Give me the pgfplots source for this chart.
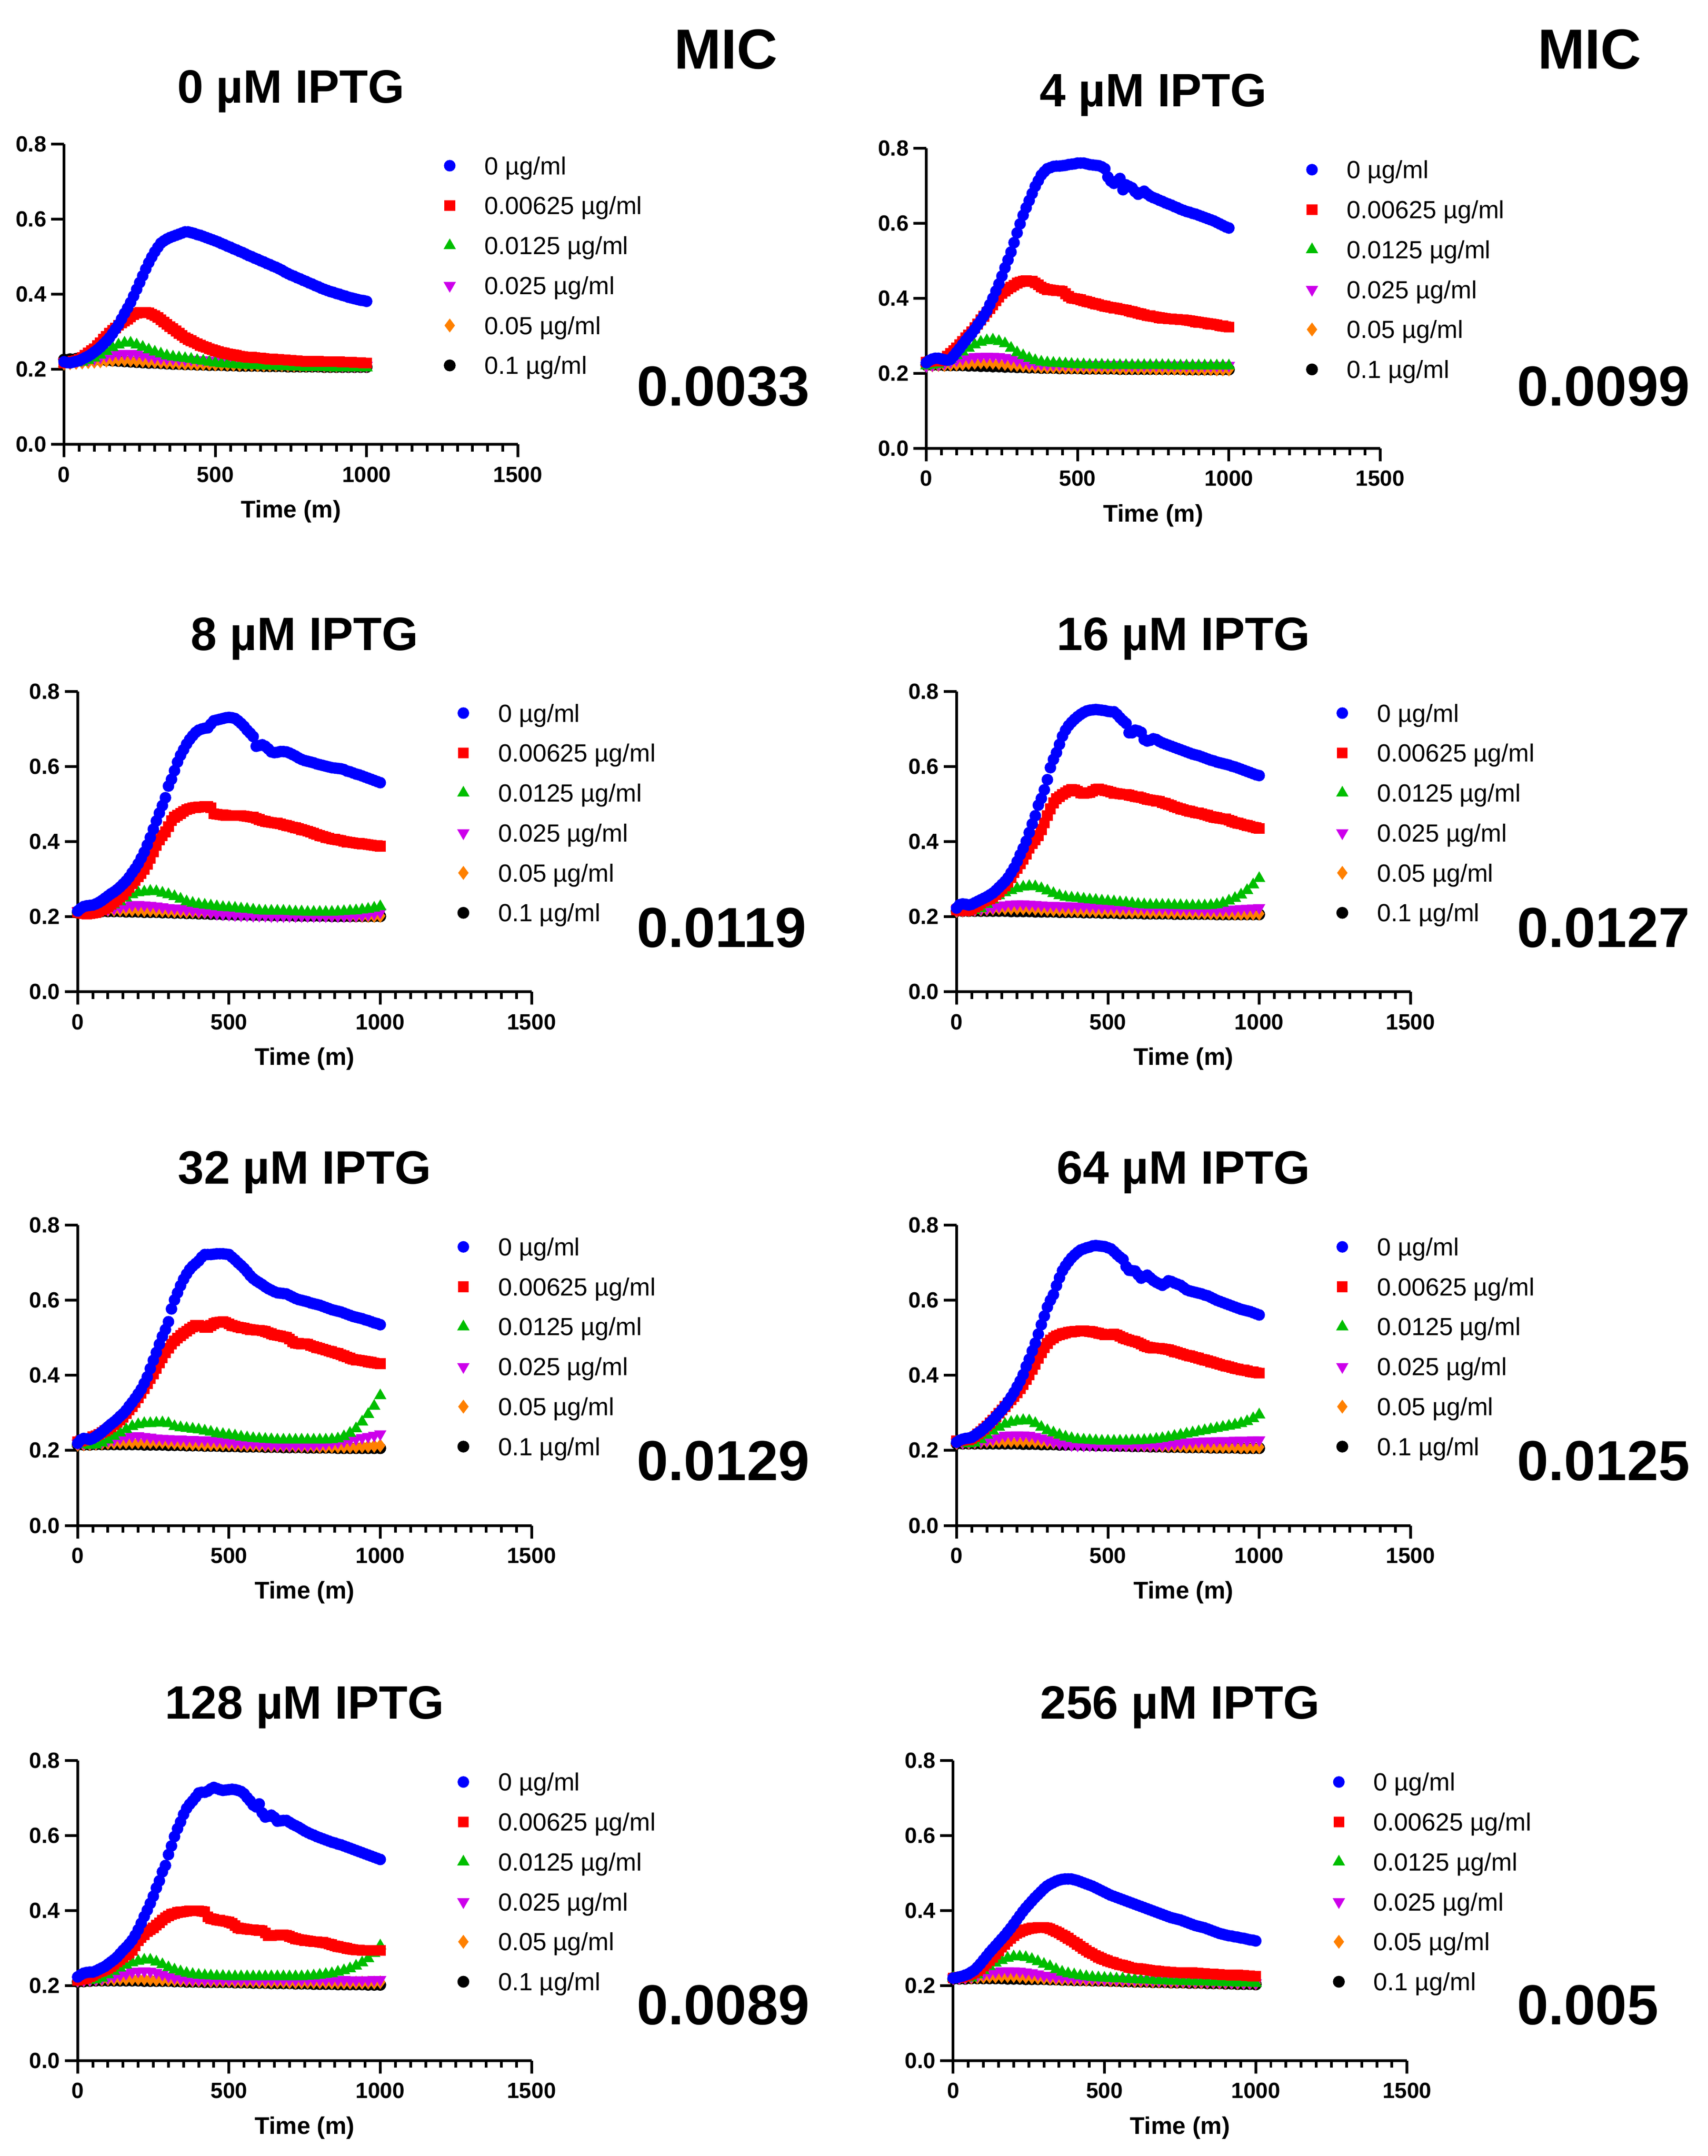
\documentclass[border=0pt]{standalone}
\usepackage{fontspec}
\setmainfont{Liberation Sans}
\usepackage{pgfplots}
\usepackage{pgfplotstable}
\pgfplotsset{compat=1.18}
\definecolor{cB}{RGB}{0,0,255}
\definecolor{cR}{RGB}{255,0,0}
\definecolor{cG}{RGB}{0,190,0}
\definecolor{cP}{RGB}{205,0,235}
\definecolor{cO}{RGB}{255,128,0}

% ---------- Panel A: 0 uM IPTG ----------
\pgfplotstableread{
t B R
0 0.220 0.217
10 0.218 0.218
20 0.217 0.219
30 0.219 0.221
40 0.221 0.223
50 0.223 0.226
60 0.227 0.231
70 0.231 0.237
80 0.235 0.243
90 0.240 0.249
100 0.246 0.255
110 0.252 0.263
120 0.259 0.271
130 0.267 0.280
140 0.275 0.288
150 0.284 0.296
160 0.295 0.303
170 0.307 0.310
180 0.319 0.317
190 0.334 0.323
200 0.349 0.328
210 0.363 0.334
220 0.378 0.340
230 0.395 0.346
240 0.413 0.349
250 0.431 0.351
260 0.449 0.352
270 0.467 0.352
280 0.484 0.350
290 0.499 0.347
300 0.513 0.343
310 0.525 0.338
320 0.536 0.332
330 0.542 0.326
340 0.547 0.320
350 0.551 0.314
360 0.554 0.308
370 0.557 0.302
380 0.560 0.296
390 0.563 0.290
400 0.566 0.284
410 0.566 0.280
420 0.564 0.276
430 0.562 0.272
440 0.559 0.268
450 0.557 0.264
460 0.554 0.261
470 0.551 0.258
480 0.548 0.255
490 0.545 0.252
500 0.542 0.249
510 0.539 0.247
520 0.535 0.245
530 0.532 0.243
540 0.528 0.241
550 0.525 0.240
560 0.521 0.238
570 0.518 0.237
580 0.514 0.235
590 0.511 0.234
600 0.507 0.233
610 0.503 0.232
620 0.500 0.232
630 0.496 0.231
640 0.493 0.230
650 0.489 0.230
660 0.486 0.229
670 0.482 0.228
680 0.479 0.227
690 0.475 0.227
700 0.472 0.226
710 0.468 0.226
720 0.464 0.225
730 0.459 0.225
740 0.455 0.224
750 0.451 0.224
760 0.448 0.223
770 0.444 0.223
780 0.441 0.222
790 0.437 0.222
800 0.434 0.221
810 0.430 0.221
820 0.427 0.221
830 0.423 0.221
840 0.420 0.221
850 0.416 0.220
860 0.413 0.220
870 0.410 0.220
880 0.407 0.220
890 0.405 0.220
900 0.402 0.220
910 0.400 0.220
920 0.397 0.219
930 0.395 0.219
940 0.392 0.219
950 0.390 0.219
960 0.388 0.218
970 0.386 0.218
980 0.384 0.218
990 0.383 0.217
1000 0.381 0.217
}\PAhi
\pgfplotstableread{
t G P O K
0 0.215 0.220 0.215 0.226
20 0.216 0.221 0.216 0.227
40 0.217 0.222 0.217 0.228
60 0.219 0.224 0.218 0.228
80 0.224 0.226 0.219 0.227
100 0.230 0.228 0.220 0.226
120 0.238 0.232 0.221 0.225
140 0.248 0.236 0.223 0.224
160 0.258 0.239 0.224 0.223
180 0.265 0.241 0.225 0.222
200 0.270 0.242 0.225 0.221
220 0.270 0.242 0.224 0.220
240 0.265 0.241 0.223 0.219
260 0.259 0.238 0.222 0.218
280 0.252 0.235 0.221 0.217
300 0.246 0.232 0.220 0.217
320 0.241 0.230 0.219 0.216
340 0.236 0.229 0.218 0.215
360 0.233 0.228 0.217 0.214
380 0.231 0.227 0.216 0.214
400 0.229 0.226 0.215 0.213
420 0.227 0.226 0.215 0.213
440 0.224 0.225 0.214 0.212
460 0.222 0.225 0.214 0.212
480 0.219 0.224 0.214 0.211
500 0.217 0.224 0.213 0.211
520 0.215 0.223 0.213 0.211
540 0.214 0.222 0.213 0.210
560 0.213 0.221 0.212 0.210
580 0.212 0.221 0.212 0.209
600 0.211 0.220 0.212 0.209
620 0.210 0.219 0.212 0.209
640 0.210 0.218 0.211 0.209
660 0.209 0.217 0.211 0.208
680 0.209 0.216 0.211 0.208
700 0.208 0.215 0.211 0.208
720 0.207 0.215 0.211 0.208
740 0.207 0.214 0.210 0.207
760 0.206 0.214 0.210 0.207
780 0.206 0.213 0.210 0.207
800 0.205 0.213 0.210 0.207
820 0.205 0.212 0.210 0.207
840 0.205 0.212 0.210 0.207
860 0.205 0.211 0.209 0.206
880 0.204 0.211 0.209 0.206
900 0.204 0.211 0.209 0.206
920 0.204 0.210 0.209 0.206
940 0.204 0.210 0.209 0.206
960 0.204 0.210 0.209 0.206
980 0.204 0.210 0.209 0.206
1000 0.204 0.210 0.209 0.206
}\PAlo

% ---------- Panel B: 4 uM IPTG ----------
\pgfplotstableread{
t B R
0 0.228 0.230
10 0.234 0.231
20 0.238 0.232
30 0.240 0.233
40 0.240 0.233
50 0.238 0.234
60 0.236 0.239
70 0.235 0.246
80 0.237 0.253
90 0.246 0.260
100 0.256 0.268
110 0.266 0.276
120 0.277 0.285
130 0.287 0.294
140 0.297 0.302
150 0.306 0.311
160 0.317 0.321
170 0.329 0.331
180 0.340 0.342
190 0.353 0.352
200 0.366 0.362
210 0.383 0.372
220 0.400 0.382
230 0.419 0.393
240 0.438 0.403
250 0.459 0.413
260 0.481 0.419
270 0.502 0.425
280 0.523 0.430
290 0.548 0.435
300 0.574 0.440
310 0.598 0.443
320 0.621 0.445
330 0.641 0.447
340 0.660 0.446
350 0.679 0.445
360 0.698 0.441
370 0.713 0.436
380 0.728 0.430
390 0.737 0.426
400 0.745 0.423
410 0.748 0.422
420 0.751 0.421
430 0.752 0.420
440 0.752 0.420
450 0.753 0.419
460 0.754 0.412
470 0.756 0.405
480 0.757 0.400
490 0.758 0.399
500 0.760 0.398
510 0.760 0.396
520 0.760 0.393
530 0.758 0.391
540 0.756 0.389
550 0.755 0.387
560 0.754 0.385
570 0.753 0.383
580 0.750 0.381
590 0.745 0.379
600 0.723 0.377
610 0.712 0.376
620 0.706 0.374
630 0.712 0.373
640 0.719 0.371
650 0.689 0.370
660 0.702 0.368
670 0.698 0.366
680 0.694 0.364
690 0.684 0.362
700 0.677 0.360
710 0.681 0.358
720 0.685 0.356
730 0.678 0.354
740 0.672 0.353
750 0.668 0.351
760 0.665 0.350
770 0.661 0.348
780 0.658 0.347
790 0.654 0.346
800 0.651 0.345
810 0.648 0.345
820 0.644 0.344
830 0.641 0.344
840 0.637 0.343
850 0.634 0.343
860 0.631 0.341
870 0.629 0.340
880 0.626 0.339
890 0.624 0.337
900 0.621 0.336
910 0.618 0.335
920 0.615 0.334
930 0.612 0.332
940 0.609 0.331
950 0.606 0.330
960 0.602 0.329
970 0.598 0.327
980 0.594 0.326
990 0.590 0.324
1000 0.587 0.323
}\PBhi
\pgfplotstableread{
t G P O K
0 0.220 0.220 0.220 0.222
20 0.222 0.222 0.221 0.222
40 0.224 0.224 0.222 0.222
60 0.229 0.227 0.222 0.221
80 0.238 0.231 0.223 0.221
100 0.247 0.235 0.224 0.221
120 0.257 0.239 0.225 0.221
140 0.267 0.242 0.227 0.220
160 0.276 0.244 0.228 0.220
180 0.283 0.245 0.229 0.219
200 0.287 0.245 0.229 0.219
220 0.289 0.245 0.228 0.218
240 0.285 0.244 0.227 0.218
260 0.279 0.242 0.225 0.217
280 0.267 0.239 0.223 0.217
300 0.255 0.235 0.222 0.216
320 0.247 0.231 0.220 0.216
340 0.240 0.228 0.219 0.215
360 0.234 0.226 0.218 0.215
380 0.230 0.225 0.217 0.214
400 0.228 0.224 0.216 0.214
420 0.227 0.224 0.216 0.214
440 0.226 0.224 0.216 0.213
460 0.225 0.224 0.215 0.213
480 0.224 0.224 0.215 0.213
500 0.223 0.223 0.215 0.213
520 0.223 0.223 0.215 0.212
540 0.222 0.223 0.214 0.212
560 0.222 0.223 0.214 0.212
580 0.222 0.223 0.214 0.212
600 0.221 0.223 0.214 0.212
620 0.221 0.223 0.214 0.212
640 0.221 0.223 0.213 0.211
660 0.221 0.222 0.213 0.211
680 0.221 0.222 0.213 0.211
700 0.221 0.222 0.213 0.211
720 0.221 0.222 0.213 0.211
740 0.221 0.222 0.213 0.211
760 0.221 0.222 0.212 0.211
780 0.221 0.222 0.212 0.211
800 0.221 0.222 0.212 0.211
820 0.220 0.222 0.212 0.211
840 0.220 0.222 0.212 0.211
860 0.220 0.221 0.211 0.210
880 0.220 0.221 0.211 0.210
900 0.220 0.221 0.211 0.210
920 0.220 0.221 0.211 0.210
940 0.220 0.221 0.211 0.210
960 0.220 0.221 0.210 0.210
980 0.220 0.221 0.210 0.210
1000 0.220 0.221 0.210 0.210
}\PBlo

% ---------- Panel C: 8 uM IPTG ----------
\pgfplotstableread{
t B R
0 0.215 0.212
10 0.222 0.210
20 0.227 0.208
30 0.229 0.207
40 0.230 0.208
50 0.231 0.209
60 0.234 0.211
70 0.238 0.214
80 0.243 0.218
90 0.249 0.222
100 0.255 0.227
110 0.261 0.233
120 0.266 0.239
130 0.272 0.245
140 0.279 0.252
150 0.287 0.259
160 0.295 0.268
170 0.305 0.278
180 0.317 0.288
190 0.328 0.297
200 0.341 0.306
210 0.356 0.315
220 0.372 0.326
230 0.391 0.340
240 0.411 0.356
250 0.433 0.373
260 0.455 0.390
270 0.476 0.405
280 0.496 0.416
290 0.517 0.426
300 0.548 0.440
310 0.566 0.456
320 0.589 0.465
330 0.612 0.470
340 0.630 0.475
350 0.645 0.480
360 0.660 0.485
370 0.672 0.488
380 0.682 0.490
390 0.691 0.491
400 0.697 0.492
410 0.700 0.493
420 0.702 0.494
430 0.703 0.494
440 0.713 0.490
450 0.722 0.474
460 0.724 0.473
470 0.726 0.472
480 0.728 0.471
490 0.730 0.470
500 0.731 0.469
510 0.730 0.469
520 0.728 0.469
530 0.722 0.469
540 0.715 0.469
550 0.707 0.468
560 0.697 0.467
570 0.689 0.466
580 0.680 0.465
590 0.654 0.462
600 0.656 0.459
610 0.658 0.456
620 0.654 0.454
630 0.647 0.452
640 0.639 0.451
650 0.637 0.450
660 0.638 0.449
670 0.640 0.447
680 0.640 0.445
690 0.639 0.443
700 0.636 0.441
710 0.632 0.439
720 0.628 0.437
730 0.623 0.435
740 0.619 0.432
750 0.616 0.430
760 0.614 0.428
770 0.612 0.425
780 0.610 0.422
790 0.607 0.419
800 0.605 0.416
810 0.603 0.414
820 0.601 0.411
830 0.599 0.409
840 0.597 0.407
850 0.596 0.406
860 0.595 0.404
870 0.594 0.403
880 0.592 0.401
890 0.588 0.399
900 0.586 0.398
910 0.583 0.397
920 0.580 0.396
930 0.578 0.395
940 0.575 0.394
950 0.572 0.393
960 0.569 0.392
970 0.566 0.391
980 0.563 0.390
990 0.560 0.389
1000 0.557 0.388
}\PChi
\pgfplotstableread{
t G P O K
0 0.215 0.215 0.215 0.212
20 0.216 0.216 0.216 0.213
40 0.217 0.217 0.216 0.213
60 0.219 0.218 0.217 0.214
80 0.222 0.219 0.217 0.214
100 0.226 0.220 0.218 0.214
120 0.232 0.222 0.218 0.214
140 0.240 0.225 0.218 0.214
160 0.250 0.228 0.218 0.213
180 0.259 0.231 0.218 0.213
200 0.264 0.232 0.218 0.213
220 0.266 0.231 0.217 0.212
240 0.268 0.230 0.217 0.212
260 0.267 0.228 0.216 0.212
280 0.263 0.226 0.216 0.211
300 0.259 0.224 0.215 0.211
320 0.254 0.223 0.214 0.210
340 0.247 0.221 0.214 0.210
360 0.240 0.219 0.213 0.209
380 0.236 0.217 0.213 0.209
400 0.233 0.215 0.212 0.208
420 0.231 0.213 0.212 0.208
440 0.229 0.211 0.211 0.207
460 0.227 0.208 0.211 0.207
480 0.225 0.207 0.210 0.206
500 0.224 0.206 0.210 0.206
520 0.223 0.205 0.209 0.205
540 0.221 0.204 0.209 0.205
560 0.220 0.204 0.208 0.205
580 0.218 0.203 0.208 0.204
600 0.216 0.203 0.207 0.204
620 0.215 0.203 0.207 0.204
640 0.215 0.202 0.206 0.203
660 0.215 0.202 0.206 0.203
680 0.215 0.202 0.206 0.203
700 0.214 0.202 0.205 0.203
720 0.213 0.202 0.205 0.202
740 0.213 0.202 0.205 0.202
760 0.212 0.202 0.204 0.202
780 0.212 0.202 0.204 0.202
800 0.212 0.202 0.204 0.202
820 0.212 0.202 0.203 0.202
840 0.212 0.202 0.203 0.201
860 0.213 0.202 0.203 0.201
880 0.214 0.202 0.203 0.201
900 0.215 0.202 0.202 0.201
920 0.216 0.203 0.202 0.201
940 0.218 0.204 0.202 0.201
960 0.220 0.206 0.202 0.201
980 0.223 0.209 0.202 0.201
1000 0.227 0.212 0.202 0.201
}\PClo

% ---------- Panel D: 16 uM IPTG ----------
\pgfplotstableread{
t B R
0 0.223 0.218
10 0.232 0.217
20 0.234 0.216
30 0.233 0.216
40 0.231 0.217
50 0.233 0.220
60 0.237 0.225
70 0.241 0.230
80 0.245 0.236
90 0.249 0.241
100 0.253 0.245
110 0.258 0.248
120 0.263 0.252
130 0.270 0.259
140 0.278 0.266
150 0.286 0.274
160 0.294 0.282
170 0.304 0.292
180 0.317 0.304
190 0.330 0.317
200 0.347 0.329
210 0.365 0.341
220 0.382 0.353
230 0.401 0.366
240 0.424 0.383
250 0.447 0.395
260 0.469 0.405
270 0.497 0.416
280 0.515 0.432
290 0.538 0.450
300 0.565 0.469
310 0.597 0.487
320 0.619 0.503
330 0.637 0.514
340 0.659 0.520
350 0.681 0.526
360 0.697 0.531
370 0.709 0.535
380 0.718 0.539
390 0.726 0.538
400 0.733 0.534
410 0.739 0.530
420 0.744 0.529
430 0.748 0.530
440 0.750 0.531
450 0.751 0.534
460 0.752 0.539
470 0.751 0.540
480 0.750 0.538
490 0.749 0.536
500 0.747 0.534
510 0.746 0.532
520 0.746 0.529
530 0.739 0.528
540 0.730 0.527
550 0.722 0.526
560 0.715 0.526
570 0.690 0.524
580 0.690 0.522
590 0.697 0.520
600 0.695 0.519
610 0.691 0.517
620 0.672 0.515
630 0.668 0.512
640 0.670 0.511
650 0.674 0.510
660 0.672 0.508
670 0.667 0.507
680 0.663 0.504
690 0.660 0.502
700 0.657 0.499
710 0.654 0.496
720 0.651 0.493
730 0.648 0.490
740 0.645 0.487
750 0.642 0.485
760 0.639 0.483
770 0.636 0.481
780 0.633 0.479
790 0.631 0.477
800 0.629 0.476
810 0.626 0.474
820 0.623 0.472
830 0.620 0.470
840 0.617 0.467
850 0.615 0.465
860 0.612 0.464
870 0.610 0.462
880 0.608 0.461
890 0.606 0.460
900 0.604 0.457
910 0.601 0.454
920 0.599 0.451
930 0.596 0.449
940 0.593 0.447
950 0.590 0.445
960 0.587 0.443
970 0.584 0.441
980 0.581 0.439
990 0.578 0.437
1000 0.576 0.435
}\PDhi
\pgfplotstableread{
t G P O K
0 0.218 0.218 0.215 0.215
20 0.216 0.218 0.216 0.215
40 0.215 0.219 0.217 0.215
60 0.217 0.220 0.218 0.215
80 0.222 0.221 0.219 0.215
100 0.233 0.222 0.220 0.215
120 0.245 0.224 0.221 0.215
140 0.256 0.228 0.222 0.215
160 0.264 0.231 0.222 0.215
180 0.270 0.233 0.222 0.214
200 0.275 0.234 0.222 0.214
220 0.279 0.234 0.222 0.214
240 0.281 0.233 0.222 0.214
260 0.280 0.232 0.221 0.213
280 0.275 0.231 0.220 0.213
300 0.269 0.230 0.219 0.213
320 0.262 0.230 0.218 0.213
340 0.256 0.229 0.218 0.212
360 0.252 0.229 0.217 0.212
380 0.250 0.228 0.217 0.212
400 0.249 0.228 0.216 0.212
420 0.247 0.228 0.216 0.211
440 0.245 0.227 0.216 0.211
460 0.244 0.227 0.215 0.211
480 0.242 0.226 0.215 0.210
500 0.241 0.226 0.215 0.210
520 0.240 0.226 0.214 0.210
540 0.238 0.225 0.214 0.209
560 0.237 0.225 0.214 0.209
580 0.235 0.225 0.213 0.209
600 0.233 0.225 0.213 0.209
620 0.232 0.224 0.213 0.208
640 0.231 0.224 0.212 0.208
660 0.231 0.223 0.212 0.208
680 0.231 0.223 0.212 0.208
700 0.231 0.222 0.211 0.208
720 0.230 0.222 0.211 0.207
740 0.230 0.221 0.211 0.207
760 0.229 0.221 0.210 0.207
780 0.229 0.220 0.210 0.207
800 0.229 0.219 0.210 0.207
820 0.229 0.219 0.210 0.207
840 0.230 0.218 0.209 0.207
860 0.232 0.218 0.209 0.206
880 0.236 0.219 0.209 0.206
900 0.242 0.219 0.209 0.206
920 0.249 0.220 0.208 0.206
940 0.258 0.221 0.208 0.206
960 0.270 0.222 0.208 0.206
980 0.285 0.223 0.208 0.206
1000 0.302 0.224 0.208 0.206
}\PDlo

% ---------- Panel E: 32 uM IPTG ----------
\pgfplotstableread{
t B R
0 0.219 0.223
10 0.228 0.225
20 0.232 0.227
30 0.231 0.229
40 0.229 0.232
50 0.232 0.236
60 0.237 0.239
70 0.243 0.243
80 0.249 0.248
90 0.256 0.252
100 0.263 0.257
110 0.270 0.263
120 0.276 0.269
130 0.283 0.275
140 0.291 0.281
150 0.298 0.289
160 0.307 0.298
170 0.318 0.308
180 0.328 0.317
190 0.339 0.328
200 0.351 0.340
210 0.363 0.352
220 0.379 0.364
230 0.396 0.378
240 0.418 0.391
250 0.440 0.404
260 0.461 0.418
270 0.483 0.433
280 0.504 0.447
290 0.522 0.460
300 0.543 0.472
310 0.577 0.483
320 0.601 0.492
330 0.620 0.499
340 0.639 0.506
350 0.656 0.512
360 0.670 0.518
370 0.682 0.524
380 0.691 0.529
390 0.698 0.533
400 0.705 0.534
410 0.715 0.531
420 0.722 0.528
430 0.722 0.528
440 0.722 0.533
450 0.723 0.538
460 0.724 0.541
470 0.724 0.542
480 0.724 0.543
490 0.723 0.541
500 0.722 0.537
510 0.715 0.533
520 0.708 0.531
530 0.700 0.529
540 0.693 0.527
550 0.685 0.526
560 0.676 0.524
570 0.666 0.522
580 0.658 0.521
590 0.652 0.520
600 0.647 0.520
610 0.642 0.519
620 0.636 0.517
630 0.631 0.514
640 0.627 0.511
650 0.623 0.508
660 0.620 0.507
670 0.619 0.505
680 0.618 0.503
690 0.617 0.502
700 0.613 0.497
710 0.609 0.490
720 0.605 0.486
730 0.602 0.485
740 0.600 0.484
750 0.598 0.484
760 0.596 0.483
770 0.593 0.480
780 0.591 0.477
790 0.589 0.474
800 0.587 0.472
810 0.584 0.470
820 0.581 0.467
830 0.578 0.465
840 0.575 0.463
850 0.573 0.460
860 0.571 0.458
870 0.569 0.455
880 0.566 0.452
890 0.563 0.449
900 0.560 0.446
910 0.557 0.443
920 0.555 0.441
930 0.553 0.440
940 0.551 0.439
950 0.548 0.438
960 0.546 0.436
970 0.543 0.435
980 0.540 0.433
990 0.538 0.432
1000 0.535 0.431
}\PEhi
\pgfplotstableread{
t G P O K
0 0.219 0.219 0.215 0.215
20 0.216 0.219 0.216 0.215
40 0.214 0.220 0.217 0.215
60 0.215 0.221 0.218 0.216
80 0.220 0.223 0.219 0.216
100 0.228 0.226 0.220 0.216
120 0.238 0.229 0.221 0.216
140 0.247 0.233 0.222 0.216
160 0.256 0.236 0.222 0.216
180 0.264 0.238 0.222 0.216
200 0.269 0.239 0.222 0.216
220 0.272 0.237 0.222 0.215
240 0.272 0.235 0.222 0.215
260 0.273 0.233 0.222 0.215
280 0.274 0.232 0.222 0.215
300 0.272 0.231 0.221 0.214
320 0.264 0.230 0.220 0.214
340 0.261 0.230 0.219 0.214
360 0.259 0.229 0.218 0.213
380 0.257 0.229 0.217 0.213
400 0.255 0.228 0.217 0.213
420 0.252 0.228 0.216 0.212
440 0.249 0.227 0.216 0.212
460 0.245 0.226 0.216 0.212
480 0.243 0.225 0.216 0.211
500 0.241 0.223 0.216 0.211
520 0.239 0.221 0.215 0.211
540 0.236 0.220 0.215 0.210
560 0.234 0.219 0.214 0.210
580 0.232 0.219 0.214 0.210
600 0.231 0.218 0.213 0.210
620 0.230 0.216 0.213 0.209
640 0.229 0.215 0.212 0.209
660 0.228 0.214 0.212 0.209
680 0.228 0.214 0.212 0.208
700 0.228 0.214 0.212 0.208
720 0.228 0.214 0.211 0.208
740 0.228 0.214 0.211 0.208
760 0.228 0.214 0.211 0.207
780 0.228 0.215 0.211 0.207
800 0.228 0.216 0.210 0.207
820 0.228 0.218 0.210 0.207
840 0.229 0.220 0.210 0.207
860 0.231 0.222 0.210 0.206
880 0.237 0.225 0.210 0.206
900 0.246 0.228 0.210 0.206
920 0.258 0.231 0.210 0.206
940 0.276 0.234 0.211 0.206
960 0.296 0.237 0.211 0.206
980 0.318 0.240 0.212 0.206
1000 0.346 0.244 0.213 0.206
}\PElo

% ---------- Panel F: 64 uM IPTG ----------
\pgfplotstableread{
t B R
0 0.222 0.225
10 0.227 0.226
20 0.230 0.227
30 0.232 0.228
40 0.233 0.229
50 0.235 0.232
60 0.240 0.237
70 0.246 0.244
80 0.251 0.250
90 0.258 0.257
100 0.265 0.265
110 0.273 0.273
120 0.281 0.281
130 0.290 0.290
140 0.299 0.299
150 0.308 0.308
160 0.318 0.317
170 0.330 0.326
180 0.342 0.335
190 0.355 0.344
200 0.370 0.353
210 0.385 0.364
220 0.402 0.376
230 0.424 0.389
240 0.443 0.401
250 0.465 0.416
260 0.486 0.430
270 0.510 0.445
280 0.535 0.460
290 0.558 0.474
300 0.582 0.485
310 0.600 0.494
320 0.615 0.500
330 0.639 0.505
340 0.660 0.508
350 0.679 0.511
360 0.692 0.513
370 0.703 0.515
380 0.713 0.516
390 0.721 0.517
400 0.728 0.518
410 0.734 0.519
420 0.737 0.519
430 0.740 0.518
440 0.742 0.517
450 0.745 0.516
460 0.746 0.514
470 0.745 0.512
480 0.744 0.510
490 0.743 0.508
500 0.740 0.508
510 0.737 0.509
520 0.730 0.510
530 0.722 0.508
540 0.715 0.504
550 0.709 0.500
560 0.690 0.497
570 0.680 0.494
580 0.679 0.492
590 0.678 0.490
600 0.668 0.487
610 0.659 0.483
620 0.663 0.479
630 0.667 0.476
640 0.660 0.474
650 0.653 0.473
660 0.648 0.472
670 0.644 0.472
680 0.640 0.471
690 0.645 0.470
700 0.652 0.469
710 0.650 0.466
720 0.646 0.463
730 0.643 0.461
740 0.640 0.459
750 0.634 0.456
760 0.628 0.454
770 0.625 0.452
780 0.623 0.450
790 0.621 0.448
800 0.619 0.446
810 0.617 0.443
820 0.614 0.441
830 0.612 0.439
840 0.608 0.436
850 0.604 0.434
860 0.600 0.432
870 0.597 0.429
880 0.594 0.427
890 0.591 0.425
900 0.588 0.423
910 0.585 0.421
920 0.582 0.418
930 0.579 0.417
940 0.576 0.415
950 0.574 0.414
960 0.572 0.412
970 0.570 0.410
980 0.567 0.409
990 0.564 0.407
1000 0.561 0.406
}\PFhi
\pgfplotstableread{
t G P O K
0 0.222 0.222 0.220 0.218
20 0.220 0.222 0.221 0.218
40 0.218 0.223 0.221 0.218
60 0.220 0.224 0.222 0.218
80 0.229 0.225 0.223 0.218
100 0.241 0.227 0.224 0.218
120 0.252 0.231 0.224 0.218
140 0.262 0.236 0.225 0.218
160 0.270 0.240 0.225 0.218
180 0.275 0.241 0.225 0.218
200 0.278 0.241 0.225 0.218
220 0.280 0.241 0.225 0.217
240 0.279 0.240 0.225 0.217
260 0.272 0.237 0.224 0.217
280 0.262 0.233 0.223 0.216
300 0.253 0.228 0.222 0.216
320 0.247 0.223 0.221 0.216
340 0.241 0.219 0.220 0.215
360 0.236 0.217 0.219 0.215
380 0.232 0.215 0.219 0.215
400 0.229 0.214 0.218 0.215
420 0.228 0.214 0.217 0.214
440 0.227 0.214 0.217 0.214
460 0.226 0.214 0.216 0.213
480 0.225 0.214 0.216 0.213
500 0.225 0.214 0.215 0.213
520 0.225 0.214 0.215 0.212
540 0.225 0.214 0.215 0.212
560 0.225 0.214 0.214 0.212
580 0.226 0.214 0.214 0.211
600 0.226 0.214 0.214 0.211
620 0.227 0.214 0.213 0.211
640 0.228 0.214 0.213 0.210
660 0.230 0.214 0.213 0.210
680 0.232 0.215 0.212 0.210
700 0.235 0.216 0.212 0.209
720 0.238 0.218 0.212 0.209
740 0.241 0.220 0.212 0.209
760 0.244 0.222 0.211 0.208
780 0.247 0.223 0.211 0.208
800 0.250 0.224 0.211 0.208
820 0.253 0.225 0.211 0.208
840 0.256 0.225 0.210 0.207
860 0.259 0.226 0.210 0.207
880 0.262 0.226 0.210 0.207
900 0.265 0.226 0.210 0.207
920 0.268 0.227 0.210 0.207
940 0.272 0.227 0.209 0.206
960 0.277 0.227 0.209 0.206
980 0.285 0.228 0.209 0.206
1000 0.295 0.228 0.209 0.206
}\PFlo

% ---------- Panel G: 128 uM IPTG ----------
\pgfplotstableread{
t B R
0 0.223 0.214
10 0.229 0.216
20 0.233 0.218
30 0.235 0.220
40 0.236 0.224
50 0.236 0.228
60 0.239 0.232
70 0.243 0.236
80 0.247 0.239
90 0.251 0.242
100 0.257 0.246
110 0.263 0.251
120 0.269 0.257
130 0.276 0.263
140 0.285 0.269
150 0.294 0.275
160 0.302 0.281
170 0.311 0.287
180 0.321 0.294
190 0.334 0.306
200 0.349 0.320
210 0.366 0.328
220 0.384 0.336
230 0.401 0.344
240 0.419 0.349
250 0.438 0.354
260 0.460 0.361
270 0.479 0.367
280 0.503 0.375
290 0.520 0.381
300 0.549 0.386
310 0.572 0.390
320 0.597 0.392
330 0.618 0.395
340 0.636 0.396
350 0.656 0.397
360 0.672 0.398
370 0.683 0.399
380 0.692 0.399
390 0.702 0.399
400 0.713 0.399
410 0.715 0.398
420 0.715 0.397
430 0.718 0.383
440 0.724 0.378
450 0.728 0.377
460 0.725 0.375
470 0.722 0.374
480 0.720 0.372
490 0.721 0.371
500 0.722 0.369
510 0.723 0.366
520 0.722 0.360
530 0.720 0.354
540 0.717 0.352
550 0.711 0.351
560 0.701 0.350
570 0.692 0.349
580 0.681 0.349
590 0.676 0.348
600 0.684 0.347
610 0.660 0.346
620 0.649 0.340
630 0.651 0.333
640 0.654 0.333
650 0.648 0.334
660 0.638 0.334
670 0.639 0.335
680 0.640 0.335
690 0.640 0.334
700 0.635 0.331
710 0.630 0.328
720 0.626 0.325
730 0.622 0.323
740 0.617 0.322
750 0.612 0.320
760 0.608 0.319
770 0.604 0.318
780 0.601 0.317
790 0.597 0.317
800 0.594 0.316
810 0.591 0.315
820 0.588 0.313
830 0.585 0.311
840 0.582 0.309
850 0.580 0.306
860 0.577 0.304
870 0.575 0.302
880 0.572 0.301
890 0.569 0.299
900 0.566 0.297
910 0.563 0.296
920 0.560 0.295
930 0.557 0.295
940 0.554 0.294
950 0.551 0.294
960 0.548 0.294
970 0.545 0.294
980 0.542 0.294
990 0.539 0.294
1000 0.536 0.294
}\PGhi
\pgfplotstableread{
t G P O K
0 0.214 0.214 0.213 0.210
20 0.214 0.215 0.214 0.211
40 0.214 0.216 0.215 0.212
60 0.216 0.217 0.216 0.213
80 0.220 0.219 0.216 0.213
100 0.229 0.221 0.217 0.213
120 0.238 0.224 0.217 0.213
140 0.247 0.228 0.218 0.213
160 0.255 0.232 0.218 0.213
180 0.261 0.236 0.218 0.213
200 0.265 0.238 0.218 0.213
220 0.268 0.239 0.218 0.212
240 0.268 0.238 0.217 0.212
260 0.263 0.235 0.216 0.212
280 0.256 0.230 0.216 0.212
300 0.248 0.225 0.215 0.212
320 0.242 0.221 0.215 0.211
340 0.237 0.219 0.214 0.211
360 0.233 0.217 0.214 0.210
380 0.230 0.216 0.213 0.210
400 0.228 0.216 0.213 0.210
420 0.227 0.216 0.213 0.209
440 0.226 0.216 0.212 0.209
460 0.225 0.216 0.212 0.209
480 0.225 0.216 0.212 0.209
500 0.224 0.216 0.212 0.209
520 0.224 0.216 0.211 0.208
540 0.224 0.216 0.211 0.208
560 0.224 0.216 0.211 0.208
580 0.224 0.216 0.211 0.207
600 0.224 0.216 0.210 0.207
620 0.224 0.216 0.210 0.207
640 0.224 0.216 0.210 0.206
660 0.224 0.216 0.210 0.206
680 0.224 0.216 0.210 0.206
700 0.224 0.216 0.209 0.206
720 0.224 0.216 0.209 0.205
740 0.224 0.216 0.209 0.205
760 0.225 0.216 0.209 0.205
780 0.226 0.216 0.209 0.204
800 0.228 0.216 0.209 0.204
820 0.230 0.216 0.209 0.204
840 0.232 0.216 0.208 0.204
860 0.236 0.216 0.208 0.203
880 0.240 0.216 0.208 0.203
900 0.245 0.215 0.208 0.203
920 0.252 0.215 0.208 0.203
940 0.261 0.215 0.208 0.203
960 0.272 0.215 0.208 0.202
980 0.286 0.216 0.208 0.202
1000 0.306 0.216 0.209 0.202
}\PGlo

% ---------- Panel H: 256 uM IPTG ----------
\pgfplotstableread{
t B R
0 0.220 0.220
10 0.221 0.221
20 0.223 0.222
30 0.225 0.223
40 0.228 0.225
50 0.231 0.227
60 0.236 0.231
70 0.241 0.235
80 0.249 0.240
90 0.258 0.245
100 0.268 0.252
110 0.278 0.259
120 0.288 0.267
130 0.297 0.275
140 0.306 0.284
150 0.315 0.293
160 0.324 0.302
170 0.333 0.310
180 0.343 0.318
190 0.353 0.326
200 0.364 0.333
210 0.375 0.339
220 0.386 0.343
230 0.397 0.347
240 0.407 0.349
250 0.416 0.351
260 0.425 0.353
270 0.434 0.354
280 0.442 0.355
290 0.450 0.355
300 0.458 0.355
310 0.465 0.354
320 0.470 0.351
330 0.474 0.348
340 0.478 0.344
350 0.481 0.340
360 0.483 0.335
370 0.484 0.331
380 0.484 0.326
390 0.484 0.321
400 0.482 0.316
410 0.480 0.310
420 0.477 0.305
430 0.474 0.299
440 0.471 0.294
450 0.468 0.289
460 0.465 0.285
470 0.461 0.280
480 0.457 0.276
490 0.453 0.272
500 0.449 0.269
510 0.445 0.266
520 0.441 0.263
530 0.438 0.261
540 0.435 0.258
550 0.432 0.256
560 0.429 0.254
570 0.426 0.252
580 0.423 0.249
590 0.420 0.247
600 0.417 0.246
610 0.414 0.245
620 0.411 0.244
630 0.408 0.243
640 0.405 0.242
650 0.402 0.241
660 0.399 0.240
670 0.396 0.239
680 0.393 0.238
690 0.390 0.237
700 0.387 0.237
710 0.384 0.236
720 0.381 0.236
730 0.379 0.235
740 0.377 0.235
750 0.375 0.235
760 0.372 0.234
770 0.369 0.234
780 0.366 0.234
790 0.363 0.234
800 0.360 0.233
810 0.358 0.233
820 0.356 0.232
830 0.354 0.232
840 0.351 0.231
850 0.348 0.231
860 0.345 0.231
870 0.342 0.230
880 0.339 0.230
890 0.337 0.229
900 0.335 0.229
910 0.333 0.229
920 0.332 0.228
930 0.330 0.228
940 0.329 0.228
950 0.327 0.227
960 0.326 0.227
970 0.324 0.226
980 0.322 0.226
990 0.321 0.225
1000 0.319 0.225
}\PHhi
\pgfplotstableread{
t G P O K
0 0.220 0.220 0.220 0.218
20 0.220 0.221 0.220 0.218
40 0.220 0.222 0.221 0.218
60 0.221 0.224 0.221 0.219
80 0.229 0.227 0.222 0.219
100 0.240 0.231 0.223 0.219
120 0.251 0.234 0.224 0.219
140 0.260 0.237 0.224 0.219
160 0.267 0.239 0.225 0.219
180 0.273 0.239 0.225 0.218
200 0.277 0.239 0.225 0.218
220 0.277 0.238 0.224 0.218
240 0.275 0.236 0.223 0.217
260 0.270 0.234 0.222 0.217
280 0.264 0.231 0.221 0.217
300 0.257 0.227 0.220 0.217
320 0.251 0.225 0.219 0.216
340 0.243 0.223 0.218 0.216
360 0.236 0.222 0.217 0.215
380 0.232 0.221 0.217 0.215
400 0.229 0.220 0.216 0.214
420 0.226 0.220 0.216 0.214
440 0.224 0.219 0.215 0.214
460 0.222 0.219 0.215 0.213
480 0.221 0.218 0.215 0.213
500 0.220 0.218 0.215 0.213
520 0.219 0.218 0.214 0.212
540 0.218 0.217 0.214 0.212
560 0.218 0.217 0.213 0.211
580 0.217 0.216 0.213 0.211
600 0.216 0.216 0.212 0.210
620 0.215 0.216 0.212 0.210
640 0.215 0.215 0.212 0.210
660 0.214 0.215 0.211 0.209
680 0.213 0.214 0.211 0.209
700 0.213 0.214 0.211 0.209
720 0.212 0.214 0.210 0.208
740 0.212 0.213 0.210 0.208
760 0.211 0.213 0.210 0.208
780 0.211 0.212 0.210 0.207
800 0.210 0.212 0.209 0.207
820 0.210 0.212 0.209 0.207
840 0.210 0.211 0.209 0.206
860 0.209 0.211 0.209 0.206
880 0.209 0.210 0.208 0.206
900 0.208 0.210 0.208 0.205
920 0.208 0.209 0.208 0.205
940 0.207 0.209 0.207 0.204
960 0.207 0.208 0.207 0.204
980 0.207 0.208 0.207 0.204
1000 0.206 0.207 0.206 0.203
}\PHlo

\pgfplotsset{
  mB/.style={only marks, mark=*, color=cB, mark size=1.9pt},
  mR/.style={only marks, mark=square*, color=cR, mark size=1.75pt},
  mG/.style={only marks, mark=triangle*, color=cG, mark size=2.2pt},
  mP/.style={only marks, mark=triangle*, mark options={rotate=180}, color=cP, mark size=2.2pt},
  mO/.style={only marks, mark=diamond*, color=cO, mark size=2.2pt},
  mK/.style={only marks, mark=*, color=black, mark size=1.95pt},
  panel/.style={
    anchor=south west,
    scale only axis, width=164.75pt, height=109pt,
    xmin=0, xmax=1500, ymin=0, ymax=0.8,
    clip=false,
    axis lines=left,
    axis line style={-, line width=1pt, black},
    xtick={0,500,1000,1500}, minor x tick num=9,
    ytick={0,0.2,0.4,0.6,0.8},
    scaled ticks=false,
    tick align=outside,
    major tick length=4.7pt, minor tick length=2.6pt,
    tick style={line width=1pt, black},
    /pgf/number format/assume math mode=true,
    tick label style={font=\bfseries\fontsize{8}{9.6}\selectfont},
    xticklabel style={anchor=north, inner sep=0pt, yshift=-3.2pt,
      /pgf/number format/1000 sep={}},
    yticklabel style={anchor=east, inner sep=0pt, xshift=-1.5pt,
      /pgf/number format/fixed, /pgf/number format/fixed zerofill,
      /pgf/number format/precision=1},
    xlabel={Time (m)},
    every axis x label/.style={at={(axis description cs:0.5,0)}, anchor=base,
      yshift=-26.6pt, font=\bfseries\fontsize{8.75}{10.5}\selectfont},
    every axis title/.style={at={(0.5,1)}, anchor=base, yshift=15pt,
      font=\bfseries\fontsize{17}{20}\selectfont},
    reverse legend,
    legend cell align=left,
    legend style={at={(0.8316,0.9757)}, anchor=north west, draw=none, fill=none,
      inner sep=0pt, outer sep=0pt, row sep=4.1pt, column sep=9.65pt,
      font=\fontsize{9}{10.8}\selectfont,
      nodes={inner sep=0pt, text height=8.4pt, text depth=2pt}},
    legend image code/.code={\path[draw=none, fill=none] (-3pt,-3pt) rectangle (3pt,3pt);
      \draw[##1] plot coordinates {(0pt,0pt)};},
  }
}

\newcommand{\drawpanel}[4]{%
  \begin{axis}[panel, at={#1}, title={#2}]
    \addplot[mK] table[x=t,y=K]{#4};
    \addplot[mO] table[x=t,y=O]{#4};
    \addplot[mP] table[x=t,y=P]{#4};
    \addplot[mG] table[x=t,y=G]{#4};
    \addplot[mR] table[x=t,y=R]{#3};
    \addplot[mB] table[x=t,y=B]{#3};
    \legend{0.1 µg/ml, 0.05 µg/ml, 0.025 µg/ml, 0.0125 µg/ml, 0.00625 µg/ml, 0 µg/ml}
  \end{axis}%
}

\begin{document}
\begin{tikzpicture}
\useasboundingbox (0pt,0pt) rectangle (620pt,782.61pt);

\drawpanel{(23.25pt,621.31pt)}{0 µM IPTG}{\PAhi}{\PAlo}
\drawpanel{(336.25pt,619.86pt)}{4 µM IPTG}{\PBhi}{\PBlo}
\drawpanel{(28.2pt,422.61pt)}{8 µM IPTG}{\PChi}{\PClo}
\drawpanel{(347.25pt,422.61pt)}{16 µM IPTG}{\PDhi}{\PDlo}
\drawpanel{(28.2pt,228.86pt)}{32 µM IPTG}{\PEhi}{\PElo}
\drawpanel{(347.25pt,228.86pt)}{64 µM IPTG}{\PFhi}{\PFlo}
\drawpanel{(28.2pt,34.61pt)}{128 µM IPTG}{\PGhi}{\PGlo}
\drawpanel{(346pt,34.61pt)}{256 µM IPTG}{\PHhi}{\PHlo}

\begin{scope}[every node/.style={inner sep=0pt, anchor=base west,
    font=\bfseries\fontsize{20.5}{24}\selectfont}]
  \node at (244.5pt,757.61pt) {MIC};
  \node at (558pt,757.61pt) {MIC};
  \node at (231pt,635.26pt) {0.0033};
  \node at (550.5pt,635.26pt) {0.0099};
  \node at (231pt,438.76pt) {0.0119};
  \node at (550.5pt,438.76pt) {0.0127};
  \node at (231pt,245.26pt) {0.0129};
  \node at (550.5pt,245.26pt) {0.0125};
  \node at (231pt,47.76pt) {0.0089};
  \node at (550.5pt,47.76pt) {0.005};
\end{scope}
\end{tikzpicture}
\end{document}
